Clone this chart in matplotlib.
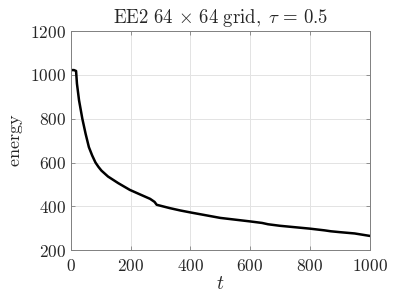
import numpy as np
import matplotlib
matplotlib.use("Agg")
import matplotlib.pyplot as plt
from matplotlib.ticker import FuncFormatter

plt.rcParams["mathtext.fontset"] = "cm"
plt.rcParams["font.family"] = "serif"

# energy curve
t = [0, 10, 17, 20, 27, 38, 49, 60, 71, 82, 92, 102, 124, 158, 197, 230,
     265, 280, 287, 330, 366, 400, 500, 600, 640, 660, 700, 800, 850, 870,
     900, 950, 1000]
energy = [1022, 1022, 1018, 960, 884, 800, 731, 670, 632, 600, 580, 563,
          536, 506, 475, 455, 434, 420, 407, 392, 381, 372, 347, 331, 324,
          318, 311, 298, 290, 286, 282, 276, 265]

xticks = [0, 200, 400, 600, 800, 1000]
yticks = [200, 400, 600, 800, 1000, 1200]

fig = plt.figure(figsize=(4.07, 3.05), dpi=100)
ax = fig.add_axes([0.1744, 0.18, 0.7336, 0.718])

ax.plot(t, energy, color="black", linewidth=1.8)

ax.set_xlim(0, 1000)
ax.set_ylim(200, 1200)
ax.set_xticks(xticks)
ax.set_yticks(yticks)
fmt = FuncFormatter(lambda v, p: r"$\mathrm{%d}$" % v)
ax.xaxis.set_major_formatter(fmt)
ax.yaxis.set_major_formatter(fmt)
ax.tick_params(direction="in", length=3, width=0.6, colors="#808080",
               labelcolor="#262626", labelsize=12.5, top=True, right=True,
               labeltop=False, labelright=False)
ax.tick_params(axis="x", pad=6)
ax.grid(True, color="#e3e3e3", linewidth=0.7)
ax.set_axisbelow(True)
for s in ax.spines.values():
    s.set_color("#808080")
    s.set_linewidth(0.7)

ax.set_xlabel(r"$t$", fontsize=14, color="#262626", labelpad=0)
ax.set_ylabel(r"$\mathrm{energy}$", fontsize=13, color="#262626", labelpad=4)
ax.set_title(r"$\mathrm{EE2\ 64}\,\times\,\mathrm{64\ grid,}\;\tau\,=\,0.5$",
             fontsize=13.5, color="#262626", pad=6)

fig.savefig("out.png", dpi=100)
